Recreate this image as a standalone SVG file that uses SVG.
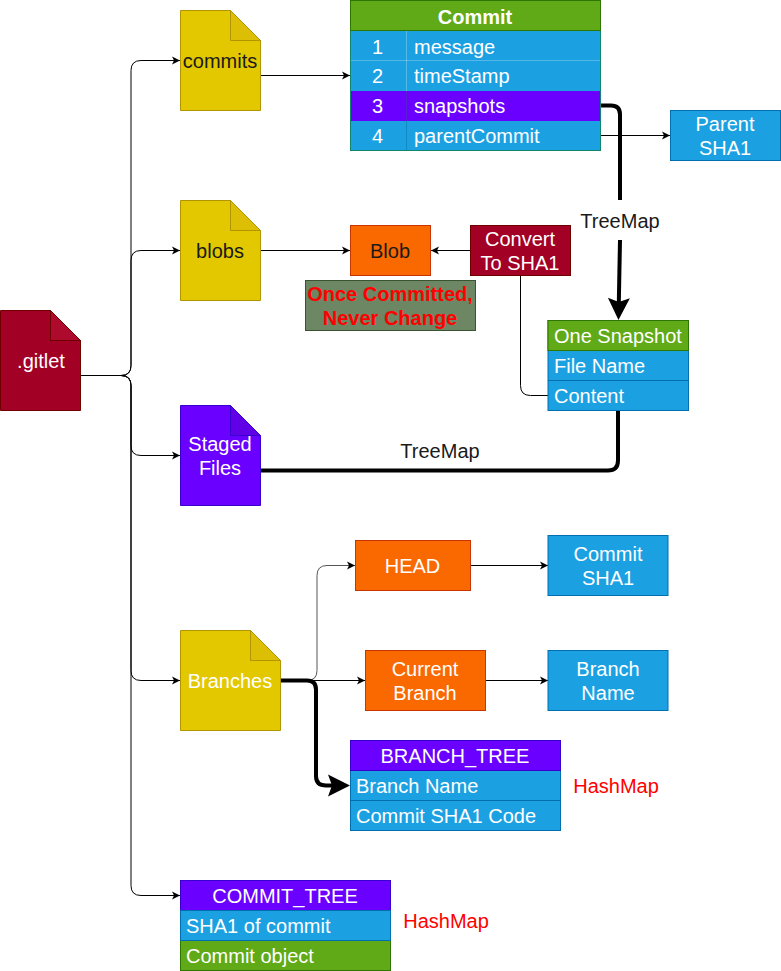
<svg xmlns="http://www.w3.org/2000/svg" width="781" height="971" viewBox="0 0 781 971">
<style>
text{font-family:"Liberation Sans",Arial,sans-serif;font-size:20px;fill:#fff;text-anchor:middle}
.l{text-anchor:start}
.d{fill:#1a1a1a}
.r{fill:#f00}
.b{font-weight:bold}
.y{fill:#e3c800;stroke:#b09500}
.yf{fill:#dcbf05;stroke:#b09500}
.m{fill:#a20025;stroke:#6f0000}
.mf{fill:#ae0a2d;stroke:#6f0000}
.p{fill:#6a00ff;stroke:#3700cc}
.pf{fill:#5f00e6;stroke:#3700cc}
.bl{fill:#1ba1e2;stroke:#006eaf}
.g{fill:#60a917;stroke:#2d7600}
.o{fill:#fa6800;stroke:#c73500}
.gg{fill:#6d8764;stroke:#3a5431}
.c{fill:none;stroke:#000;stroke-width:1}
.t{fill:none;stroke:#000;stroke-width:4}
.w{stroke:#fff;stroke-opacity:.25;fill:none}
</style>
<defs>
<marker id="a" viewBox="0 0 10 10" refX="9" refY="5" markerWidth="10" markerHeight="10" markerUnits="userSpaceOnUse" orient="auto"><path d="M1 1L9 5L1 9L3 5Z" fill="#000"/></marker>
<marker id="A" viewBox="0 0 24 24" refX="11" refY="12" markerWidth="24" markerHeight="24" markerUnits="userSpaceOnUse" orient="auto"><path d="M1 1L23 12L1 23L5 12Z" fill="#000"/></marker>
</defs>
<g id="connectors">
<path class="c" d="M81 375.500H121Q131 375.500 131 365.500V70.500Q131 60.500 141 60.500H180" marker-end="url(#a)"/>
<path class="c" d="M81 375.500H121Q131 375.500 131 365.500V260.500Q131 250.500 141 250.500H180" marker-end="url(#a)"/>
<path class="c" d="M81 375.500H121Q131 375.500 131 385.500V445.500Q131 455.500 141 455.500H180" marker-end="url(#a)"/>
<path class="c" d="M81 375.500H121Q131 375.500 131 385.500V670.500Q131 680.500 141 680.500H180" marker-end="url(#a)"/>
<path class="c" d="M81 375.500H121Q131 375.500 131 385.500V885.500Q131 895.500 141 895.500H180" marker-end="url(#a)"/>
<path class="c" d="M261 75.500H350" marker-end="url(#a)"/>
<path class="c" d="M261 250.500H350" marker-end="url(#a)"/>
<path class="c" d="M471 250.500H431" marker-end="url(#a)"/>
<path class="c" d="M520.500 276V385.500Q520.500 395.500 530.500 395.500H548"/>
<path class="c" d="M471 565.500H548" marker-end="url(#a)"/>
<path class="c" d="M486 680.500H548" marker-end="url(#a)"/>
<path class="c" d="M281 680.500H307Q317 680.500 317 670.500V575.500Q317 565.500 327 565.500H355" marker-end="url(#a)" style="stroke:#555"/>
<path class="c" d="M281 680.500H365" marker-end="url(#a)"/>
<path class="t" d="M601 105.500H611Q620 105.500 620 114.500V200"/>
<path class="c" d="M601 135.500H670" marker-end="url(#a)"/>
<path class="t" d="M620 240L618.700 308" marker-end="url(#A)"/>
<path class="t" d="M261 470.500H608Q618 470.500 618 460.500V411"/>
<path class="t" d="M281 680.500H307Q316 680.500 316 689.500V776Q316 785.500 326 785.500H338" marker-end="url(#A)"/>
</g>
<g id="gitlet"><path class="m" d="M.5 310.500H50.500L80.500 340.500V410.500H.5Z"/><path class="mf" d="M50.500 310.500V340.500H80.500Z"/><text x="41" y="368">.gitlet</text></g>
<g id="commits"><path class="y" d="M180.500 10.500H230.500L260.500 40.500V110.500H180.500Z"/><path class="yf" d="M230.500 10.500V40.500H260.500Z"/><text x="220" y="68" class="d">commits</text></g>
<g id="blobs"><path class="y" d="M180.500 200.500H230.500L260.500 230.500V300.500H180.500Z"/><path class="yf" d="M230.500 200.500V230.500H260.500Z"/><text x="220" y="258" class="d">blobs</text></g>
<g id="staged"><path class="p" d="M180.500 405.500H230.500L260.500 435.500V505.500H180.500Z"/><path class="pf" d="M230.500 405.500V435.500H260.500Z"/><text x="220" y="451">Staged</text><text x="220" y="475">Files</text></g>
<g id="branches"><path class="y" d="M180.500 630.500H250.500L280.500 660.500V730.500H180.500Z"/><path class="yf" d="M250.500 630.500V660.500H280.500Z"/><text x="230" y="688">Branches</text></g>
<g id="commit-table">
<rect class="bl" x="350.500" y=".5" width="250" height="150" style="stroke:#10876b"/>
<rect class="g" x="350.500" y=".5" width="250" height="30"/>
<rect x="351" y="91" width="249" height="30" fill="#6a00ff"/>
<path class="w" d="M351 60.500H600M406.500 31V91"/>
<path d="M406.500 91V121" stroke="#5a20d0" fill="none"/>
<path d="M406.500 121V150" stroke="#1288c2" fill="none"/>
<text x="475" y="24" class="b">Commit</text>
<text x="377.500" y="54">1</text><text x="414" y="54" class="l">message</text>
<text x="377.500" y="83">2</text><text x="414" y="83" class="l">timeStamp</text>
<text x="377.500" y="113">3</text><text x="414" y="113" class="l">snapshots</text>
<text x="377.500" y="143">4</text><text x="414" y="143" class="l">parentCommit</text>
</g>
<g id="parent-sha1"><rect class="bl" x="670.500" y="110.500" width="110" height="50"/><text x="725" y="131">Parent</text><text x="725" y="155">SHA1</text></g>
<g id="blob"><rect class="o" x="350.500" y="225.500" width="80" height="50"/><text x="390" y="258" class="d">Blob</text></g>
<g id="convert"><rect class="m" x="470.500" y="225.500" width="100" height="50"/><text x="520" y="246">Convert</text><text x="520" y="270">To SHA1</text></g>
<g id="once"><rect class="gg" x="305.500" y="280.500" width="170" height="50"/><text x="390" y="301" class="r b">Once Committed,</text><text x="390" y="325" class="r b">Never Change</text></g>
<g id="treemap-label-1"><text x="620" y="228" class="d">TreeMap</text></g>
<g id="treemap-label-2"><text x="440" y="458" class="d">TreeMap</text></g>
<g id="snapshot">
<rect class="bl" x="548" y="320.500" width="140.500" height="90"/>
<rect class="g" x="548" y="320.500" width="140.500" height="30"/>
<path d="M548 380.500H688.500" stroke="#006eaf" fill="none"/>
<text x="554" y="343" class="l">One Snapshot</text>
<text x="554" y="373" class="l">File Name</text>
<text x="554" y="403" class="l">Content</text>
</g>
<g id="head"><rect class="o" x="355.500" y="540.500" width="115" height="50"/><text x="412.500" y="573">HEAD</text></g>
<g id="commit-sha1"><rect class="bl" x="548" y="535.500" width="120" height="60"/><text x="608" y="561">Commit</text><text x="608" y="585">SHA1</text></g>
<g id="current-branch"><rect class="o" x="365.500" y="650.500" width="120" height="60"/><text x="425" y="676">Current</text><text x="425" y="700">Branch</text></g>
<g id="branch-name"><rect class="bl" x="548" y="650.500" width="120" height="60"/><text x="608" y="676">Branch</text><text x="608" y="700">Name</text></g>
<g id="branch-tree">
<rect class="bl" x="350.500" y="740.500" width="210" height="90"/>
<rect class="p" x="350.500" y="740.500" width="210" height="30"/>
<path d="M350.500 800.500H560.500" stroke="#006eaf" fill="none"/>
<text x="455" y="763">BRANCH_TREE</text>
<text x="356" y="793" class="l">Branch Name</text>
<text x="356" y="823" class="l">Commit SHA1 Code</text>
</g>
<g id="hashmap-1"><text x="616" y="793" class="r">HashMap</text></g>
<g id="commit-tree">
<rect class="g" x="180.500" y="880.500" width="210" height="90"/>
<rect class="p" x="180.500" y="880.500" width="210" height="30"/>
<rect class="bl" x="180.500" y="910.500" width="210" height="30"/>
<text x="285" y="903">COMMIT_TREE</text>
<text x="186" y="933" class="l">SHA1 of commit</text>
<text x="186" y="963" class="l">Commit object</text>
</g>
<g id="hashmap-2"><text x="446" y="928" class="r">HashMap</text></g>
</svg>
